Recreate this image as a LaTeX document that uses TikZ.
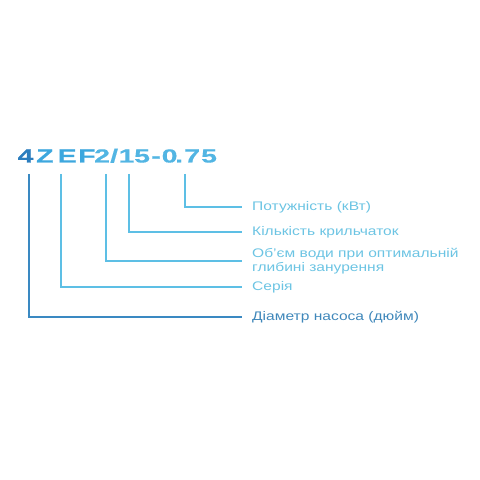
\documentclass[tikz,border=0pt]{standalone}
\usepackage{fontspec}
\setmainfont{Liberation Sans}
\newfontfamily\codefont[FakeStretch=1.5,FakeBold=0.6]{Liberation Sans Bold}
\newfontfamily\labfont[FakeStretch=1.25]{Liberation Sans}
\usetikzlibrary{positioning}
\definecolor{dkBlue}{HTML}{2B7DBE}
\definecolor{mdBlue}{HTML}{3DA7DE}
\definecolor{ltBlue}{HTML}{52B5E3}
\definecolor{lnDark}{HTML}{3A89C2}
\definecolor{lnLight}{HTML}{5DBFE5}
\definecolor{txDark}{HTML}{3F87BA}
\definecolor{txLight}{HTML}{6CC4E3}
\tikzset{
	code/.style={anchor=base west, inner sep=0, font=\codefont\fontsize{19}{20}\selectfont},
	lab/.style={anchor=west, inner xsep=10bp, inner ysep=0, align=left, text=txLight,
		font=\labfont\fontsize{12.5}{14}\selectfont},
	lead/.style={line width=2bp, draw=lnLight}
}

\begin{document}
\begin{tikzpicture}[x=1bp, y=-1bp]
	\useasboundingbox (0,0) rectangle (480,480);
	
	% model code, one node per character
	\node[code, text=dkBlue] (c4) at (17.5,162.5) {4};
	\node[code, text=mdBlue] (cZ) at (36,162.5) {Z};
	\node[code, text=mdBlue] (cE) at (57.5,162.5) {E};
	\node[code, text=mdBlue] (cF) at (78,162.5) {F};
	\node[code, text=ltBlue] (c2) at (94,162.5) {2};
	\node[code, text=ltBlue] (cSl) at (110,162.5) {/};
	\node[code, text=ltBlue] (c1) at (118.5,162.5) {1};
	\node[code, text=ltBlue] (c5a) at (134,162.5) {5};
	\node[code, text=ltBlue] (cDash) at (151,162.5) {-};
	\node[code, text=ltBlue] (c0) at (161.5,162.5) {0};
	\node[code, text=ltBlue] (cDot) at (175,162.5) {.};
	\node[code, text=ltBlue] (c7) at (184,162.5) {7};
	\node[code, text=ltBlue] (c5b) at (201,162.5) {5};
	
	% labels
	\node[lab] (power) at (242,207) {Потужність (кВт)};
	\node[lab] (impellers) at (242,232) {Кількість крильчаток};
	\node[lab] (volume) at (242,261) {Об’єм води при оптимальній\\глибині занурення};
	\node[lab] (series) at (242,287) {Серія};
	\node[lab, text=txDark] (diameter) at (242,317) {Діаметр насоса (дюйм)};
	
	\draw[lead] ([shift={(1,11.5)}]c7.base west) |- (power.west);
	\draw[lead] ([shift={(10.5,11.5)}]c1.base west) |- (impellers.west);
	\draw[lead] ([shift={(12,11.5)}]c2.base west) |- (volume.west);
	\draw[lead] ([shift={(3.5,11.5)}]cE.base west) |- (series.west);
	\draw[lead, draw=lnDark] ([shift={(11,11.5)}]c4.base west) |- (diameter.west);
\end{tikzpicture}
\end{document}
